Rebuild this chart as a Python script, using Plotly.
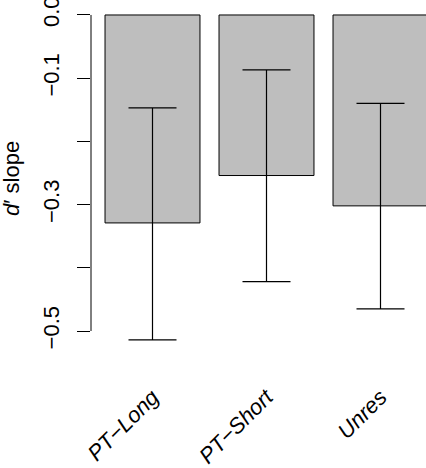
import plotly.graph_objects as go

categories = ["PT−Long", "PT−Short", "Unres"]
means = [-0.329, -0.254, -0.302]
ci_upper = [-0.147, -0.087, -0.140]
ci_lower = [-0.514, -0.422, -0.465]
ytick_vals = [0.0, -0.1, -0.2, -0.3, -0.4, -0.5]
ytick_text = ["0.0", "−0.1", "", "−0.3", "", "−0.5"]
y_title = "<i>d</i>′ slope"

xpos = list(range(len(categories)))
err_plus = [u - m for u, m in zip(ci_upper, means)]
err_minus = [m - l for m, l in zip(means, ci_lower)]

fig = go.Figure()
fig.add_trace(go.Bar(
    x=xpos, y=means, width=0.833,
    marker=dict(color="#BEBEBE", line=dict(color="black", width=1)),
    error_y=dict(type="data", array=err_plus, arrayminus=err_minus,
                 color="black", thickness=1.2, width=24, symmetric=False),
    showlegend=False,
))

# R-style y axis line from 0 to -0.5
fig.add_shape(type="line", xref="paper", yref="y", x0=0, x1=0,
              y0=ytick_vals[0], y1=ytick_vals[-1],
              line=dict(color="black", width=1))

# y axis title
fig.add_annotation(text=y_title, xref="paper", yref="paper",
                   x=-79 / 335, y=0.523, textangle=-90, showarrow=False,
                   xanchor="center", yanchor="middle", font=dict(size=22))

fig.update_layout(
    width=426, height=468,
    margin=dict(l=91, r=0, t=0, b=93),
    plot_bgcolor="white", paper_bgcolor="white",
    font=dict(family="Liberation Sans, Arial, sans-serif", size=22, color="black"),
    xaxis=dict(
        range=[-0.5395, 2.3991], tickmode="array", tickvals=xpos,
        ticktext=["<i>%s</i>" % c for c in categories],
        tickangle=-45, ticks="", showline=False, showgrid=False, zeroline=False,
        ticklabelstandoff=4, ticklabeloverflow="allow", automargin=False,
    ),
    yaxis=dict(
        range=[-0.5696, 0.0237], tickmode="array", tickvals=ytick_vals,
        ticktext=ytick_text, tickangle=-90, ticks="outside", ticklen=13,
        tickwidth=1, tickcolor="black", showline=False, showgrid=False,
        zeroline=False, ticklabelstandoff=9, ticklabeloverflow="allow",
        automargin=False,
    ),
)

fig.write_html("out.html")
